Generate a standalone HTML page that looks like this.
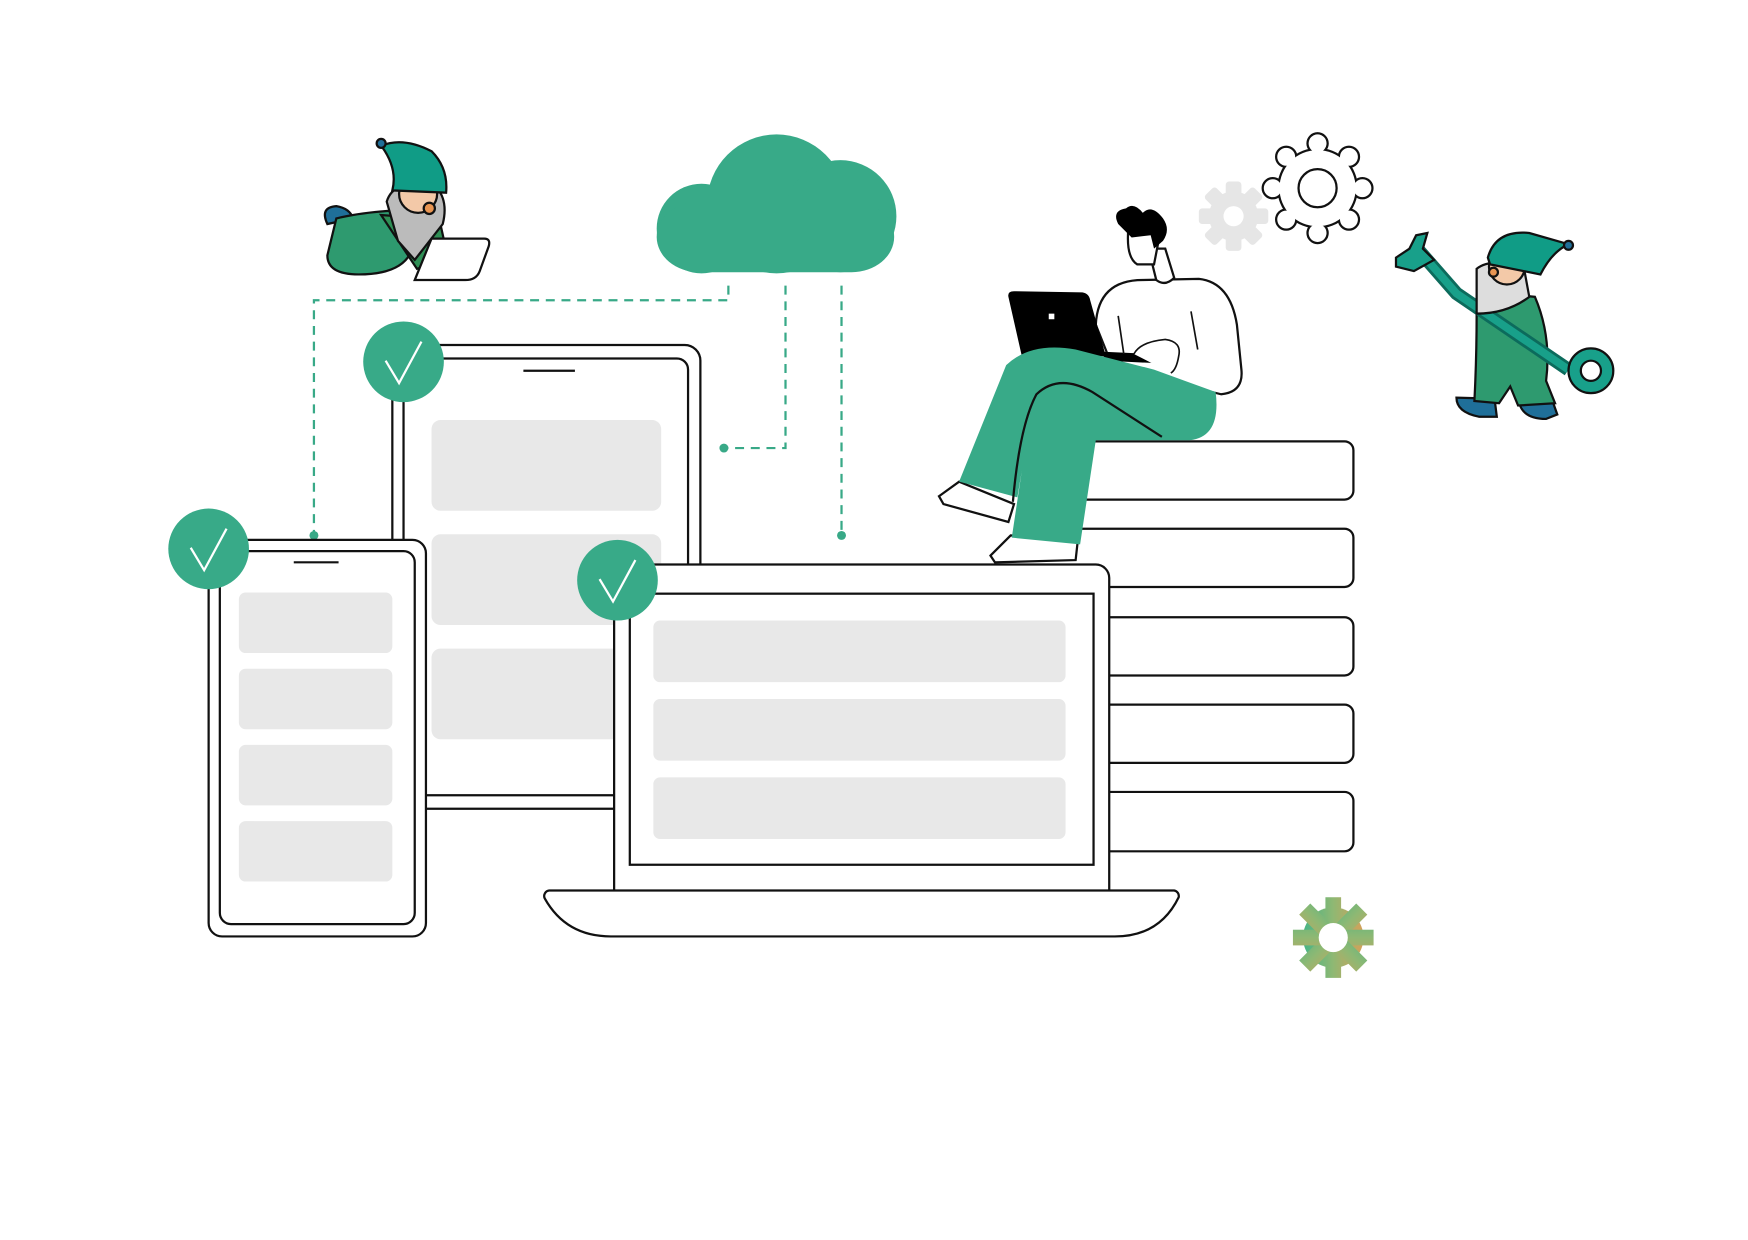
<!DOCTYPE html>
<html><head><meta charset="utf-8"><style>html,body{margin:0;padding:0;background:#fff}svg{display:block}</style></head>
<body>
<svg width="1748" height="1240" viewBox="0 0 1560 1107" xmlns="http://www.w3.org/2000/svg">
<defs>
<linearGradient id="gg" gradientUnits="userSpaceOnUse" x1="-36" x2="36" y1="0" y2="0"><stop offset="0" stop-color="#2fb38c"/><stop offset="0.5" stop-color="#8fb873"/><stop offset="1" stop-color="#ec9850"/></linearGradient>
<g id="og"><circle r="34"/><circle cx="0" cy="-40" r="8"/><circle cx="28" cy="-28" r="8"/><circle cx="40" cy="0" r="8"/><circle cx="28" cy="28" r="8"/><circle cx="0" cy="40" r="8"/><circle cx="-28" cy="28" r="8"/><circle cx="-40" cy="0" r="8"/><circle cx="-28" cy="-28" r="8"/></g>
</defs>
<rect width="1560" height="1107" fill="#fff"/>
<g fill="none" stroke="#38a987" stroke-width="2" stroke-dasharray="8,6">
<path d="M650 255 V268 H280 V478"/>
<path d="M701 255 V400 H646"/>
<path d="M751 255 V478"/>
</g>
<g fill="#38a987"><circle cx="280" cy="478" r="4"/><circle cx="646" cy="400" r="4"/><circle cx="751" cy="478" r="4"/></g>
<g fill="#38aa88">
<circle cx="693" cy="182" r="62"/><circle cx="750" cy="193" r="50"/><circle cx="626" cy="204" r="40"/>
<rect x="586" y="180" width="212" height="63" rx="38"/>
</g>
<g fill="#fff" stroke="#111" stroke-width="2">
<path d="M940 394 H1200 a8 8 0 0 1 8 8 V438 a8 8 0 0 1 -8 8 H940"/>
<path d="M940 472 H1200 a8 8 0 0 1 8 8 V516 a8 8 0 0 1 -8 8 H940"/>
<path d="M940 551 H1200 a8 8 0 0 1 8 8 V595 a8 8 0 0 1 -8 8 H940"/>
<path d="M940 629 H1200 a8 8 0 0 1 8 8 V673 a8 8 0 0 1 -8 8 H940"/>
<path d="M940 707 H1200 a8 8 0 0 1 8 8 V752 a8 8 0 0 1 -8 8 H940"/>
</g>
<rect x="350" y="308" width="275" height="414" rx="14" fill="#fff" stroke="#111" stroke-width="2"/>
<rect x="360" y="320" width="254" height="390" rx="10" fill="#fff" stroke="#111" stroke-width="2"/>
<line x1="467" y1="331" x2="513" y2="331" stroke="#111" stroke-width="2"/>
<g fill="#e8e8e8"><rect x="385" y="375" width="205" height="81" rx="8"/><rect x="385" y="477" width="205" height="81" rx="8"/><rect x="385" y="579" width="205" height="81" rx="8"/></g>
<rect x="186" y="482" width="194" height="354" rx="12" fill="#fff" stroke="#111" stroke-width="2"/>
<rect x="196" y="492" width="174" height="333" rx="10" fill="#fff" stroke="#111" stroke-width="2"/>
<line x1="262" y1="502" x2="302" y2="502" stroke="#111" stroke-width="2"/>
<g fill="#e8e8e8"><rect x="213" y="529" width="137" height="54" rx="6"/><rect x="213" y="597" width="137" height="54" rx="6"/><rect x="213" y="665" width="137" height="54" rx="6"/><rect x="213" y="733" width="137" height="54" rx="6"/></g>
<path d="M548 795 V516 a12 12 0 0 1 12 -12 H978 a12 12 0 0 1 12 12 V795" fill="#fff" stroke="#111" stroke-width="2"/>
<rect x="562" y="530" width="414" height="242" fill="#fff" stroke="#111" stroke-width="2"/>
<g fill="#e8e8e8"><rect x="583" y="554" width="368" height="55" rx="6"/><rect x="583" y="624" width="368" height="55" rx="6"/><rect x="583" y="694" width="368" height="55" rx="6"/></g>
<path d="M490 795 H1048 a5 5 0 0 1 4 6 Q1035 836 995 836 H545 Q505 836 486 802 a5 5 0 0 1 4 -7 Z" fill="#fff" stroke="#111" stroke-width="2"/>
<g fill="#38aa88"><circle cx="360" cy="323" r="36"/><circle cx="186" cy="490" r="36"/><circle cx="551" cy="518" r="36"/></g>
<g fill="none" stroke="#fff" stroke-width="2"><path d="M344 322 L356 342 L376 305"/><path d="M170 489 L182 509 L202 472"/><path d="M535 517 L547 537 L567 500"/></g>
<path d="M838 443 L856 430 L905 450 L900 466 L842 450 Z" fill="#fff" stroke="#111" stroke-width="2"/>
<path d="M884 496 L902 478 L962 482 L960 500 L888 502 Z" fill="#fff" stroke="#111" stroke-width="2"/>
<path d="M978 290 Q980 250 1020 250 L1070 249 Q1098 252 1104 290 L1108 330 Q1110 350 1090 352 L1040 340 L990 320 Z" fill="#fff" stroke="#111" stroke-width="2"/>
<path d="M1025 222 L1032 250 Q1040 256 1048 248 L1040 222 Z" fill="#fff" stroke="#111" stroke-width="2"/>
<path d="M1007 205 Q1005 230 1015 236 L1030 236 L1036 205 Z" fill="#fff" stroke="#111" stroke-width="2"/>
<path d="M998 200 Q992 188 1005 186 Q1012 180 1020 190 Q1028 182 1038 195 Q1045 205 1038 215 L1030 222 L1027 210 L1010 212 Z" fill="#000"/>
<path d="M900 265 Q899 260 905 260 L966 261 Q972 262 973 268 L987 318 L912 318 Z" fill="#000"/>
<rect x="936" y="280" width="5" height="5" fill="#fff"/>
<path d="M985 314 L1028 316 L1028 324 L985 322 Z" fill="#000"/>
<path d="M1012 316 Q1018 305 1040 303 Q1055 305 1052 318 Q1050 330 1045 333" fill="#fff" stroke="#111" stroke-width="1.5"/>
<path d="M998 282 L1003 316 M1063 278 L1069 312" stroke="#111" stroke-width="1.5"/>
<path d="M898 326 Q920 305 960 312 L1030 330 L1085 350 Q1090 390 1062 393 L978 393 L964 486 L903 480 L912 420 L908 444 L856 430 Z" fill="#38aa88"/>
<path d="M904 448 Q910 380 925 352 Q945 333 975 350 L1037 390" fill="none" stroke="#111" stroke-width="2"/>
<g transform="translate(1101,193)">
<circle r="22" fill="#e6e6e6"/>
<g fill="#e6e6e6"><rect x="-7" y="-31" width="14" height="62" rx="3"/><rect x="-7" y="-31" width="14" height="62" rx="3" transform="rotate(45)"/><rect x="-7" y="-31" width="14" height="62" rx="3" transform="rotate(90)"/><rect x="-7" y="-31" width="14" height="62" rx="3" transform="rotate(135)"/></g>
<circle r="9" fill="#fff"/></g>
<g transform="translate(1176,168)">
<use href="#og" fill="#111" stroke="#111" stroke-width="4"/>
<use href="#og" fill="#fff"/>
<circle r="17" fill="none" stroke="#111" stroke-width="2"/></g>
<g transform="translate(1190,837)" fill="url(#gg)">
<circle r="27"/>
<rect x="-7" y="-36" width="14" height="72"/><rect x="-7" y="-36" width="14" height="72" transform="rotate(45)"/><rect x="-7" y="-36" width="14" height="72" transform="rotate(90)"/><rect x="-7" y="-36" width="14" height="72" transform="rotate(135)"/>
<circle r="13" fill="#fff"/></g>
<g stroke="#111" stroke-width="2">
<path d="M292 200 Q285 185 300 184 Q312 186 315 195 Z" fill="#1f6f99"/>
<path d="M300 195 Q320 190 350 188 L368 222 Q360 245 320 245 Q292 245 292 228 Z" fill="#2e9a6f"/>
<path d="M340 192 L372 240 L400 232 L392 196 Z" fill="#2f8f55"/>
<path d="M345 180 Q348 170 358 166 L390 168 Q400 180 395 200 L370 232 L355 215 Z" fill="#bbb"/>
<circle cx="373" cy="173" r="17" fill="#f3c9a8"/>
<path d="M340 130 Q360 122 385 135 Q400 150 398 172 L350 170 Q355 150 340 130 Z" fill="#109c86"/>
<circle cx="340" cy="128" r="4" fill="#1f6f99"/>
<circle cx="383" cy="186" r="5" fill="#e99552"/>
<path d="M385 213 H432 Q438 213 436 220 L428 242 Q425 250 415 250 H370 Z" fill="#fff"/>
</g>
<g stroke="#111" stroke-width="2">
<path d="M1300 355 Q1300 368 1320 372 L1336 372 L1334 356 Z" fill="#1f6f99"/>
<path d="M1356 360 Q1360 374 1380 374 L1390 370 L1385 356 Z" fill="#1f6f99"/>
<path d="M1318 280 Q1320 260 1340 262 L1370 265 Q1385 300 1380 340 L1388 360 L1355 362 L1348 345 L1338 360 L1316 358 Q1318 320 1318 280 Z" fill="#2e9a6f"/>
<path d="M1265 222 L1300 262 L1400 330" fill="none" stroke="#0c6b5c" stroke-width="12"/>
<path d="M1265 222 L1300 262 L1400 330" fill="none" stroke="#18a08a" stroke-width="7"/>
<circle cx="1420" cy="331" r="20" fill="#18a08a"/><circle cx="1420" cy="331" r="9" fill="#fff"/>
<path d="M1246 230 L1258 222 L1264 210 L1274 208 L1270 222 L1280 232 L1262 242 L1246 238 Z" fill="#18a08a"/>
<path d="M1318 240 Q1330 230 1360 238 L1365 265 Q1345 280 1318 280 Z" fill="#ddd"/>
<circle cx="1345" cy="238" r="16" fill="#f3c9a8"/>
<path d="M1328 230 Q1335 205 1365 208 L1400 218 Q1385 225 1375 245 L1330 236 Z" fill="#109c86"/>
<circle cx="1400" cy="219" r="4" fill="#1f6f99"/>
<circle cx="1333" cy="243" r="4" fill="#e99552"/>
</g>
</svg>
</body></html>
